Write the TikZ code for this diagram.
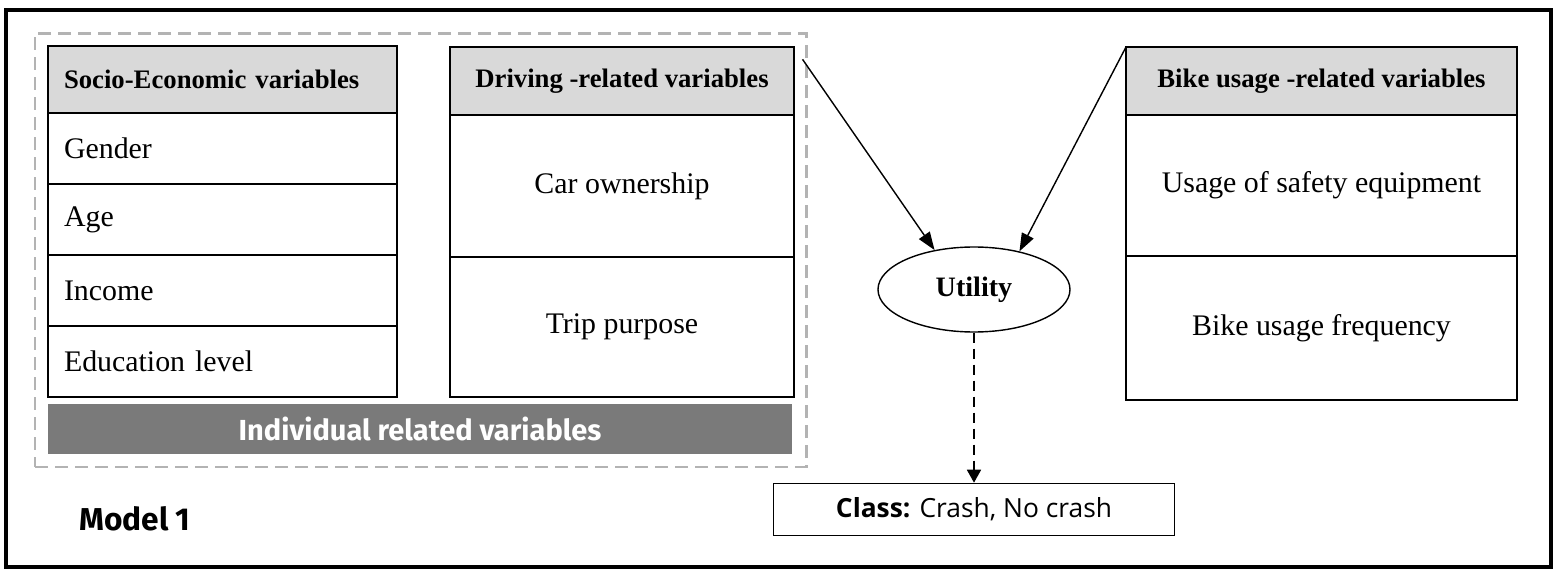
\documentclass[tikz,border=0pt]{standalone}
\usepackage{fontspec}
\setmainfont{Liberation Serif}
\newfontfamily\barfont{Fira Sans}
\newfontfamily\classfont{Open Sans}
\usetikzlibrary{shapes.geometric,arrows.meta,positioning,fit}

\definecolor{headgray}{HTML}{D9D9D9}
\definecolor{bargray}{HTML}{7A7A7A}
\definecolor{dashgray}{HTML}{B3B3B3}

\begin{document}
\begin{tikzpicture}[
    cell/.style={rectangle, draw, line width=0.8pt, outer sep=0pt, inner xsep=0.32cm, font=\fontsize{17}{20}\selectfont},
    lcell/.style={cell, anchor=north, text width=6.34cm, align=left},
    ccell/.style={cell, align=center},
    head/.style={fill=headgray, font=\fontsize{15.2}{18}\selectfont\bfseries},
    arrow/.style={-{Triangle[length=0.36cm, width=0.26cm]}, line width=0.8pt},
    group/.style={draw=dashgray, line width=1.5pt, dash pattern=on 0.26cm off 0.14cm, inner sep=0.25cm}
  ]
    \useasboundingbox (0,0) rectangle (31.16,-11.52);
    \draw[line width=2pt] (0.12,-0.20) rectangle (31.02,-11.34);

    % Socio-economic block
    \node[lcell, head, anchor=north west, minimum height=1.34cm] (sochead) at (0.96,-0.92) {Socio-Economic variables};
    \node[lcell, minimum height=1.42cm, below=0pt of sochead] (gender) {Gender};
    \node[lcell, minimum height=1.42cm, below=0pt of gender] (age) {Age};
    \node[lcell, minimum height=1.42cm, below=0pt of age] (income) {Income};
    \node[lcell, minimum height=1.42cm, below=0pt of income] (edu) {Education level};

    % Driving block
    \node[ccell, head, anchor=north west, minimum width=6.88cm, minimum height=1.36cm] (drvhead) at (9.0,-0.94) {Driving -related variables};
    \node[ccell, minimum width=6.88cm, minimum height=2.84cm, below=0pt of drvhead] (car) {Car ownership};
    \node[ccell, minimum width=6.88cm, minimum height=2.80cm, below=0pt of car] (trip) {Trip purpose};

    % Bike block
    \node[ccell, head, anchor=north west, minimum width=7.82cm, minimum height=1.36cm] (bikehead) at (22.52,-0.94) {Bike usage -related variables};
    \node[ccell, minimum width=7.82cm, minimum height=2.82cm, below=0pt of bikehead] (safety) {Usage of safety equipment};
    \node[ccell, minimum width=7.82cm, minimum height=2.88cm, below=0pt of safety] (freq) {Bike usage frequency};

    % Individual group
    \node[fill=bargray, text=white, minimum width=14.88cm, minimum height=1.0cm, inner sep=0pt,
      font=\barfont\fontsize{16.5}{19}\selectfont\bfseries] (bar) at (8.40,-8.58) {Individual related variables};
    \node[group, fit=(sochead)(edu)(drvhead)(bar)] (indiv) {};

    % Utility and class
    \node[ellipse, draw, line width=0.8pt, minimum width=3.84cm, minimum height=1.70cm, inner sep=0pt,
      font=\fontsize{16}{19}\selectfont\bfseries] (util) at (19.48,-5.79) {Utility};
    \node[rectangle, draw, line width=0.8pt, minimum width=8.02cm, minimum height=1.04cm, below=3.0cm of util,
      font=\classfont\fontsize{15}{18}\selectfont] (class) {\textbf{Class:} Crash, No crash};

    \node[font=\barfont\fontsize{18}{21}\selectfont\bfseries] (model) at (2.70,-10.38) {Model 1};

    % Arrows
    \draw[arrow, shorten <=0.3cm] (drvhead.north east) -- (util.135);
    \draw[arrow] (bikehead.north west) -- (util.40);
    \draw[-{Triangle[length=0.26cm, width=0.28cm]}, line width=1pt, dash pattern=on 0.2cm off 0.12cm] (util) -- (class);
  \end{tikzpicture}
\end{document}
